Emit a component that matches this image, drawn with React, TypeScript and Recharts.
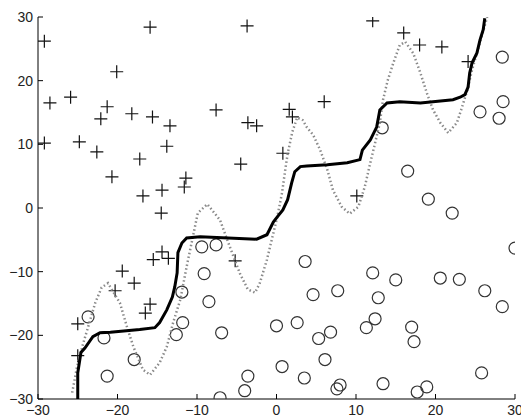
import React from "react";
import { ScatterChart, Scatter, XAxis, YAxis } from "recharts";

// tick values shared by both axes
const ticks = [-30, -20, -10, 0, 10, 20, 30];

// "+" class samples [x, y]
const plusPts: number[][] = [
  [-29.2, 26.2], [-15.9, 28.4], [-3.7, 28.6], [-20.1, 21.4], [-28.5, 16.5],
  [-25.9, 17.4], [-21.3, 15.9], [-22.1, 14.0], [-18.2, 14.8], [-15.6, 14.3],
  [-13.4, 12.9], [-7.6, 15.4], [-3.6, 13.4], [-2.5, 12.9], [-29.2, 10.2],
  [-24.8, 10.4], [-22.6, 8.8], [-13.8, 9.7], [-17.2, 7.7], [-4.5, 6.9],
  [-20.7, 4.9], [-16.8, 1.9], [-14.4, 2.8], [-11.4, 4.7], [-11.6, 3.3],
  [12.1, 29.4], [16.0, 27.5], [18.0, 25.6], [20.8, 25.3], [24.1, 23.0],
  [1.6, 15.5], [2.0, 14.3], [6.0, 16.7], [0.8, 8.6], [10.1, 1.9],
  [-14.5, -0.8], [-14.4, -6.9], [-15.5, -8.1], [-13.6, -7.9], [-5.2, -8.3],
  [-19.4, -9.9], [-20.3, -13.0], [-17.9, -11.8], [-15.9, -15.1], [-16.5, -16.5],
  [-25.0, -18.2], [-25.0, -23.2],
];

// "o" class samples [x, y]
const circlePts: number[][] = [
  [-23.7, -17.1], [-21.7, -20.4], [-21.3, -26.4], [-17.9, -23.8], [-11.9, -13.2],
  [-11.8, -18.0], [-12.6, -19.9], [-9.4, -6.1], [-7.6, -5.8], [-9.1, -10.3],
  [-8.5, -14.7], [-6.9, -19.6], [-7.1, -29.8], [-4.0, -28.7], [-3.6, -26.4],
  [13.3, 12.6], [16.5, 5.8], [19.1, 1.4], [22.1, -0.8], [28.4, 23.7],
  [28.5, 16.7], [25.6, 15.1], [28.0, 14.1], [30.0, -6.3], [3.6, -8.4],
  [12.1, -10.2], [15.0, -11.3], [20.6, -11.0], [23.0, -11.2], [26.2, -13.0],
  [28.4, -15.5], [4.6, -13.6], [7.7, -13.0], [12.8, -14.1], [0.0, -18.5],
  [2.6, -18.0], [5.3, -20.5], [6.8, -19.5], [11.3, -18.8], [12.4, -17.4],
  [17.0, -18.7], [17.3, -21.0], [0.7, -24.9], [3.5, -26.7], [6.1, -23.8],
  [7.6, -28.4], [8.0, -27.8], [13.4, -27.6], [17.7, -28.9], [18.9, -28.1],
  [25.8, -25.9],
];

// decision boundary (staircase)
const stairPts: number[][] = [
  [-25.0, -30], [-25.0, -25.9], [-24.6, -22.7], [-24.1, -22.0], [-23.1, -20.2],
  [-22.2, -19.6], [-20.9, -19.5], [-17.2, -19.1], [-15.3, -18.8], [-14.7, -18.0],
  [-13.8, -16.0], [-13.1, -14.0], [-12.8, -12.4], [-12.5, -10.2], [-12.4, -7.0],
  [-11.9, -5.5], [-11.3, -4.7], [-9.6, -4.5], [-2.5, -4.9], [-1.2, -4.2],
  [-0.4, -2.2], [0.1, -1.4], [0.8, -0.3], [1.4, 1.3], [1.9, 3.9],
  [2.3, 5.7], [3.0, 6.5], [3.8, 6.6], [6.4, 6.8], [8.9, 7.1],
  [10.5, 7.6], [10.8, 9.1], [11.8, 10.7], [12.6, 12.7], [13.0, 15.4],
  [13.9, 16.5], [15.5, 16.7], [18.1, 16.5], [22.2, 17.0], [23.1, 17.4],
  [23.7, 17.8], [24.1, 19.0], [24.3, 21.2], [24.6, 22.8], [25.2, 24.3],
  [25.6, 26.4], [26.0, 28.0], [26.2, 29.8],
];

// true boundary (dotted wave)
const wavePts: number[][] = [
  [-25.7, -29.0], [-25.1, -25.0], [-24.3, -21.2], [-23.7, -18.7], [-22.8, -14.9],
  [-22.0, -12.5], [-21.2, -11.8], [-19.7, -14.9], [-18.8, -18.7], [-18.0, -21.8],
  [-16.8, -25.4], [-15.9, -26.2], [-14.7, -24.3], [-13.8, -21.8], [-13.0, -18.0],
  [-12.1, -14.4], [-11.3, -9.2], [-10.6, -5.0], [-9.9, -0.8], [-8.7, 0.6],
  [-7.1, -1.9], [-6.2, -5.0], [-4.6, -10.3], [-3.6, -12.8], [-2.7, -13.3],
  [-2.1, -11.8], [-1.2, -8.1], [-0.6, -5.0], [0.1, -1.4], [0.7, 2.4],
  [1.1, 6.0], [1.4, 8.5], [2.0, 12.0], [2.6, 14.2], [3.3, 13.8],
  [3.8, 12.7], [4.6, 11.5], [5.5, 9.1], [6.4, 6.0], [7.1, 2.8],
  [8.2, 0.2], [9.2, -0.9], [10.3, 0.2], [11.1, 3.3], [11.8, 7.1],
  [12.4, 10.2], [13.0, 13.4], [13.4, 17.0], [14.0, 20.1], [14.7, 22.8],
  [15.5, 25.6], [16.2, 26.1], [17.2, 24.3], [18.1, 21.2], [18.9, 18.1],
  [19.7, 15.4], [20.6, 13.4], [21.6, 11.8], [22.7, 13.4], [23.3, 15.7],
  [24.0, 18.5], [24.6, 21.7], [25.2, 24.3], [25.8, 26.9], [26.5, 30.0],
];

const toObj = (pts: number[][]) => pts.map(([x, y]) => ({ x, y }));

const fmt = (v: number) => (v < 0 ? "\u2212" + Math.abs(v) : String(v));

const Plus = (props: any) => {
  const { cx, cy } = props;
  return (
    <path
      d={`M${cx - 6.5},${cy}h13M${cx},${cy - 6.5}v13`}
      stroke="#111"
      strokeWidth={1.2}
      fill="none"
    />
  );
};

const Ring = (props: any) => {
  const { cx, cy } = props;
  return <circle cx={cx} cy={cy} r={6} stroke="#333" strokeWidth={1.2} fill="none" />;
};

const NoDot = () => <g />;

const tickFont = { fontFamily: "Liberation Sans, Arial, sans-serif", fontSize: 14, fill: "#222" };

export default function App() {
  return (
    <div style={{ position: "absolute", left: 0, top: 0, background: "#fff" }}>
      <ScatterChart width={521} height={417} margin={{ top: 17, right: 6, bottom: 0, left: 0 }}>
        <XAxis
          xAxisId="b"
          type="number"
          dataKey="x"
          domain={[-30, 30]}
          ticks={ticks}
          allowDataOverflow
          height={18}
          tickSize={-5}
          tickMargin={11}
          tickFormatter={fmt}
          tick={tickFont}
          stroke="#000"
          interval={0}
        />
        <XAxis
          xAxisId="t"
          orientation="top"
          type="number"
          dataKey="x"
          domain={[-30, 30]}
          ticks={ticks}
          allowDataOverflow
          height={0}
          tickSize={-5}
          tick={false}
          stroke="#000"
        />
        <YAxis
          yAxisId="l"
          type="number"
          dataKey="y"
          domain={[-30, 30]}
          ticks={ticks}
          allowDataOverflow
          width={38}
          tickSize={-5}
          tickMargin={10}
          tickFormatter={fmt}
          tick={tickFont}
          stroke="#000"
          interval={0}
        />
        <YAxis
          yAxisId="r"
          orientation="right"
          type="number"
          dataKey="y"
          domain={[-30, 30]}
          ticks={ticks}
          allowDataOverflow
          width={0}
          tickSize={-5}
          tick={false}
          stroke="#000"
        />
        <Scatter xAxisId="b" yAxisId="l" data={toObj(plusPts)} shape={Plus} isAnimationActive={false} />
        <Scatter xAxisId="b" yAxisId="l" data={toObj(circlePts)} shape={Ring} isAnimationActive={false} />
        <Scatter
          xAxisId="b"
          yAxisId="l"
          data={toObj(wavePts)}
          shape={NoDot}
          line={{ stroke: "#8a8a8a", strokeWidth: 2.5, strokeDasharray: "1.5 2.5" }}
          isAnimationActive={false}
        />
        <Scatter
          xAxisId="b"
          yAxisId="l"
          data={toObj(stairPts)}
          shape={NoDot}
          line={{ stroke: "#000", strokeWidth: 3 }}
          isAnimationActive={false}
        />
      </ScatterChart>
    </div>
  );
}
